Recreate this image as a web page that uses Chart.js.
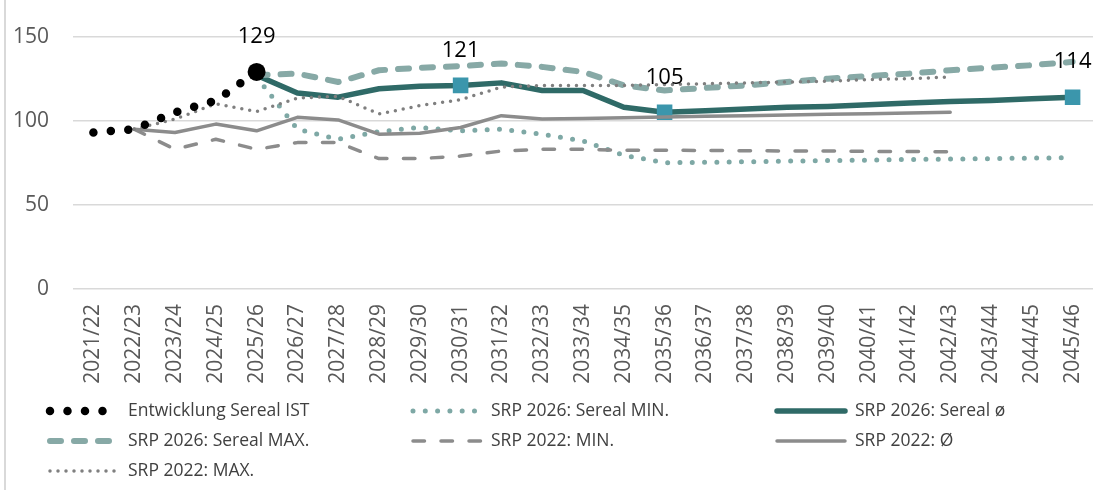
<!DOCTYPE html>
<html lang="de">
<head>
    <meta charset="UTF-8">
    <title>Sereal Entwicklung</title>
    <script src="https://cdn.jsdelivr.net/npm/chart.js"></script>
    <style>
      body { margin: 0; background: #fff; }
      .wrap { position: relative; width: 1094px; height: 490px; }
      .frame { position: absolute; left: 4px; top: 0; bottom: 0; border-left: 2px solid #d9d9d9; }
    </style>
</head>
<body>
    <div class="wrap">
      <div class="frame"></div>
      <canvas id="chart"></canvas>
    </div>

    <script type="text/javascript" charset="utf-8">
      const years = ['2021/22','2022/23','2023/24','2024/25','2025/26','2026/27','2027/28','2028/29','2029/30','2030/31',
        '2031/32','2032/33','2033/34','2034/35','2035/36','2036/37','2037/38','2038/39','2039/40','2040/41',
        '2041/42','2042/43','2043/44','2044/45','2045/46'];

      const istSereal = [93, 95, 105, 112, 129, null, null, null, null, null, null, null, null, null, null,
        null, null, null, null, null, null, null, null, null, null];
      const srp26Min = [null, null, null, null, 126, 95, 89, 93.5, 96, 94, 95, 92, 88, 79.5, 75,
        75.3, 75.6, 76, 76.3, 76.6, 77, 77.2, 77.5, 77.8, 78];
      const srp26Avg = [null, null, null, null, 127, 116.5, 114, 119, 120.5, 121, 122.5, 118, 118, 108, 105,
        106, 107, 108, 108.5, 109.5, 110.5, 111.5, 112, 113, 114];
      const srp26Max = [null, null, null, null, 127, 128, 123, 130, 131.5, 132.5, 134, 132, 129, 121, 118,
        119.5, 121, 123, 125, 126.5, 128, 130, 131.5, 133, 135];
      const srp22Min = [null, 95, 83, 89, 83, 87, 87, 77.5, 77.5, 79, 82, 83, 83, 82.5, 82.5,
        82.3, 82.2, 82, 82, 81.8, 81.7, 81.5, null, null, null];
      const srp22Avg = [null, 95, 93, 98, 94, 102, 100.5, 92, 92.5, 96, 103, 101, 101.4, 101.8, 102.2,
        102.6, 103, 103.4, 103.8, 104.2, 104.6, 105, null, null, null];
      const srp22Max = [null, 95, 101, 110, 105.5, 113.5, 114.5, 104, 109, 112.5, 120, 121, 121, 121, 121.5,
        122, 122.5, 123, 123.5, 124.5, 125, 126, null, null, null];

      const yTicks = [0, 50, 100, 150];
      const istLabelAt = [4];
      const avgLabelAt = [9, 14, 24];

      // marker only where a value label sits
      const markerSizes = (data, at, r) => data.map((v, i) => at.includes(i) ? r : 0);

      const pointLabels = {
        id: 'pointLabels',
        afterDatasetsDraw(chart) {
          const ctx = chart.ctx;
          chart.data.datasets.forEach((ds, i) => {
            if (!ds.labelAt) return;
            const meta = chart.getDatasetMeta(i);
            ds.labelAt.forEach(idx => {
              const pt = meta.data[idx];
              ctx.save();
              ctx.font = '22px "Open Sans", sans-serif';
              ctx.fillStyle = '#000';
              ctx.textAlign = 'center';
              ctx.textBaseline = 'middle';
              ctx.fillText(String(ds.data[idx]), pt.x, pt.y - 35);
              ctx.restore();
            });
          });
        }
      };

      const gridLegend = {
        id: 'gridLegend',
        afterDraw(chart) {
          const ctx = chart.ctx;
          const colX = [50, 413, 777];
          const rowY = [411, 441, 471];
          chart.data.datasets.forEach((ds, i) => {
            const x = colX[i % 3], y = rowY[Math.floor(i / 3)];
            ctx.save();
            ctx.strokeStyle = ds.borderColor;
            ctx.lineWidth = ds.borderWidth;
            ctx.lineCap = ds.borderCapStyle || 'round';
            ctx.setLineDash(ds.borderDash || []);
            ctx.beginPath();
            ctx.moveTo(x, y);
            ctx.lineTo(x + 68, y);
            ctx.stroke();
            ctx.setLineDash([]);
            ctx.font = '17.5px "Open Sans", sans-serif';
            ctx.fillStyle = '#404040';
            ctx.textAlign = 'left';
            ctx.textBaseline = 'middle';
            ctx.fillText(ds.label, x + 78, y);
            ctx.restore();
          });
        }
      };

      const ctx = document.getElementById('chart').getContext('2d');
      const chart = new Chart(ctx, {
        type: 'line',
        data: {
          labels: years,
          datasets: [
            {
              label: 'Entwicklung Sereal IST', data: istSereal, order: 0,
              borderColor: '#000', backgroundColor: '#000', borderWidth: 8.5,
              borderDash: [0, 17.5], borderCapStyle: 'round',
              pointRadius: markerSizes(istSereal, istLabelAt, 9), pointBackgroundColor: '#000',
              pointBorderWidth: 0, labelAt: istLabelAt
            },
            {
              label: 'SRP 2026: Sereal MIN.', data: srp26Min, order: 6,
              borderColor: '#7ea8a5', borderWidth: 5, borderDash: [0, 12.3], borderCapStyle: 'round',
              pointRadius: 0
            },
            {
              label: 'SRP 2026: Sereal ø', data: srp26Avg, order: 5,
              borderColor: '#2f6a67', borderWidth: 5.5, borderCapStyle: 'round',
              pointStyle: 'rect', pointRadius: markerSizes(srp26Avg, avgLabelAt, 11),
              pointBackgroundColor: '#3b96ac', pointBorderWidth: 0, labelAt: avgLabelAt
            },
            {
              label: 'SRP 2026: Sereal MAX.', data: srp26Max, order: 4,
              borderColor: '#87a9a6', borderWidth: 6, borderDash: [11, 13], borderCapStyle: 'round',
              pointRadius: 0
            },
            {
              label: 'SRP 2022: MIN.', data: srp22Min, order: 3,
              borderColor: '#8c8c8c', borderWidth: 3.5, borderDash: [11.5, 16.5], borderCapStyle: 'round',
              pointRadius: 0
            },
            {
              label: 'SRP 2022: Ø', data: srp22Avg, order: 2,
              borderColor: '#8c8c8c', borderWidth: 3.5, borderCapStyle: 'round',
              pointRadius: 0
            },
            {
              label: 'SRP 2022: MAX.', data: srp22Max, order: 1,
              borderColor: '#7f7f7f', borderWidth: 3.5, borderDash: [0, 8], borderCapStyle: 'round',
              pointRadius: 0
            }
          ]
        },
        options: {
          responsive: true,
          maintainAspectRatio: false,
          animation: false,
          events: [],
          layout: { autoPadding: false, padding: { top: 34, right: 1, bottom: 95, left: 0 } },
          plugins: { legend: { display: false }, tooltip: { enabled: false } },
          elements: { line: { tension: 0, borderJoinStyle: 'round' } },
          scales: {
            x: {
              offset: true,
              grid: { display: false, drawTicks: false },
              border: { display: false },
              ticks: {
                autoSkip: false, maxRotation: 90, minRotation: 90, padding: 15,
                color: '#595959', font: { size: 21, family: '"Open Sans", sans-serif' }
              },
              afterFit(scale) {
                scale.height = 106;
                scale.paddingLeft = 0;
                scale.paddingRight = 0;
              }
            },
            y: {
              min: 0, max: 150,
              afterBuildTicks(scale) { scale.ticks = yTicks.map(v => ({ value: v })); },
              grid: { color: '#d9d9d9', lineWidth: 1.5, drawTicks: false },
              border: { display: false },
              ticks: { padding: 24, color: '#595959', font: { size: 21, family: '"Open Sans", sans-serif' } },
              afterFit(scale) { scale.width = 73; }
            }
          }
        },
        plugins: [pointLabels, gridLegend]
      });
    </script>
</body>
</html>
